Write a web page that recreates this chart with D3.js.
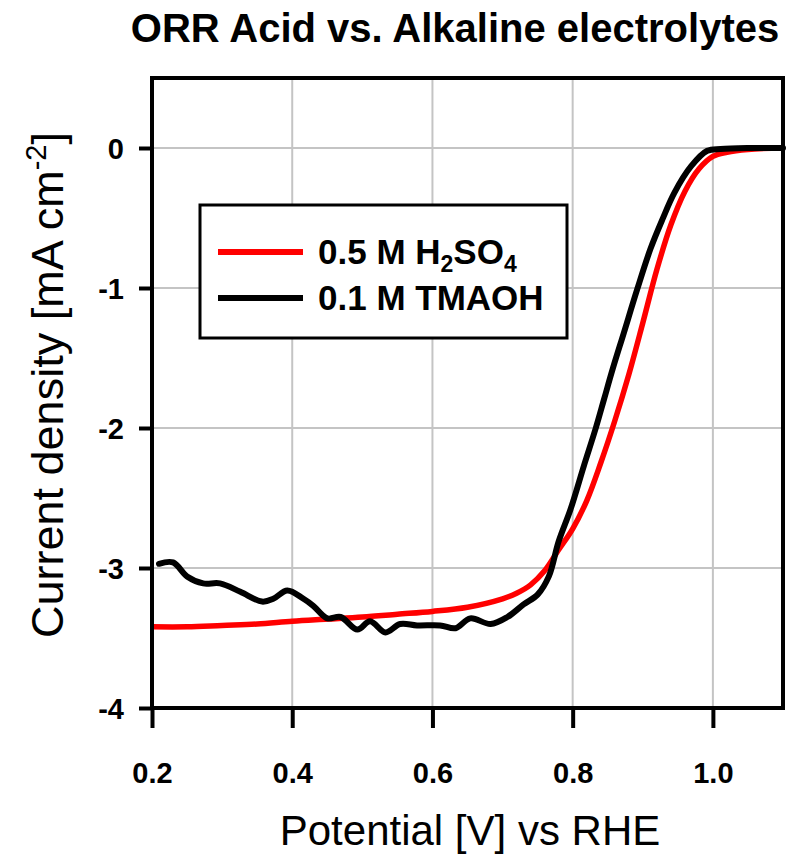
<!DOCTYPE html>
<html>
<head>
<meta charset="utf-8">
<script src="https://cdn.jsdelivr.net/npm/d3@7"></script>
<style>
  body { margin: 0; background: #fff; }
  text { font-family: "Liberation Sans", Arial, sans-serif; }
</style>
</head>
<body>
<div id="vis"></div>
<script>
// potential [V] vs RHE and current density [mA cm-2]
var acidV = [0.20, 0.25, 0.30, 0.35, 0.40, 0.45, 0.50, 0.55, 0.60, 0.65, 0.70, 0.72, 0.74, 0.76, 0.78, 0.80,
             0.82, 0.84, 0.86, 0.88, 0.90, 0.92, 0.94, 0.96, 0.98, 1.00, 1.02, 1.05, 1.10];
var acidJ = [-3.42, -3.42, -3.41, -3.40, -3.38, -3.365, -3.35, -3.33, -3.31, -3.28, -3.22, -3.18, -3.12, -3.02, -2.87, -2.72,
             -2.52, -2.25, -1.95, -1.62, -1.25, -0.87, -0.55, -0.31, -0.15, -0.06, -0.03, -0.01, 0];

var alkV = [0.21, 0.23, 0.25, 0.273, 0.297, 0.326, 0.357, 0.373, 0.393, 0.416, 0.43, 0.45, 0.469, 0.493, 0.511,
            0.533, 0.554, 0.578, 0.611, 0.633, 0.654, 0.683, 0.707, 0.73, 0.75, 0.766, 0.78, 0.797, 0.816, 0.833,
            0.845, 0.857, 0.873, 0.892, 0.911, 0.928, 0.945, 0.969, 0.992, 1.011, 1.05, 1.10];
var alkJ = [-2.97, -2.96, -3.06, -3.11, -3.11, -3.17, -3.24, -3.22, -3.16, -3.22, -3.27, -3.36, -3.35, -3.44, -3.38,
            -3.46, -3.40, -3.41, -3.41, -3.43, -3.36, -3.40, -3.35, -3.26, -3.19, -3.06, -2.81, -2.58, -2.27, -2.00,
            -1.79, -1.58, -1.32, -1.01, -0.72, -0.51, -0.32, -0.13, -0.02, -0.007, 0, 0];

var xTicks = [0.2, 0.4, 0.6, 0.8, 1.0];
var yTicks = [0, -1, -2, -3, -4];
var seriesNames = ["0.5 M H2SO4", "0.1 M TMAOH"];
var seriesColors = ["#ff0000", "#000000"];

var W = 793, H = 854;
var margin = {top: 78, right: 10, bottom: 146, left: 152};
var width = W - margin.left - margin.right;
var height = H - margin.top - margin.bottom;

var svg = d3.select("#vis").append("svg")
    .attr("width", W)
    .attr("height", H);

var g = svg.append("g")
    .attr("transform", "translate(" + margin.left + "," + margin.top + ")");

var x = d3.scaleLinear().domain([0.2, 1.1]).range([0, width]);
var y = d3.scaleLinear().domain([-4, 0.5]).range([height, 0]);

// grid
g.append("g").selectAll("line").data(xTicks.slice(1)).enter().append("line")
    .attr("x1", function(d) { return x(d); }).attr("x2", function(d) { return x(d); })
    .attr("y1", 0).attr("y2", height)
    .attr("stroke", "#c4c4c4").attr("stroke-width", 2);
g.append("g").selectAll("line").data(yTicks.slice(0, 4)).enter().append("line")
    .attr("x1", 0).attr("x2", width)
    .attr("y1", function(d) { return y(d); }).attr("y2", function(d) { return y(d); })
    .attr("stroke", "#c4c4c4").attr("stroke-width", 2);

// curves
var line = d3.line()
    .x(function(d) { return x(d[0]); })
    .y(function(d) { return y(d[1]); })
    .curve(d3.curveCatmullRom.alpha(0.5));

var acid = d3.zip(acidV, acidJ);
var alk = d3.zip(alkV, alkJ);

g.append("path").datum(acid)
    .attr("d", line).attr("fill", "none")
    .attr("stroke", seriesColors[0]).attr("stroke-width", 5.5)
    .attr("stroke-linejoin", "round");
g.append("path").datum(alk)
    .attr("d", line).attr("fill", "none")
    .attr("stroke", seriesColors[1]).attr("stroke-width", 6)
    .attr("stroke-linejoin", "round").attr("stroke-linecap", "round");

// frame
g.append("rect")
    .attr("width", width).attr("height", height)
    .attr("fill", "none").attr("stroke", "#000").attr("stroke-width", 4);

// axes
var xAxis = g.append("g")
    .attr("transform", "translate(0," + height + ")")
    .call(d3.axisBottom(x).tickValues(xTicks).tickFormat(d3.format(".1f")).tickSize(20).tickPadding(34));
var yAxis = g.append("g")
    .call(d3.axisLeft(y).tickValues(yTicks).tickFormat(function(d) { return String(d); })
      .tickSize(13).tickPadding(15));

[xAxis, yAxis].forEach(function(a) {
  a.select(".domain").remove();
  a.selectAll(".tick line").attr("stroke", "#000").attr("stroke-width", 4);
  a.selectAll(".tick text")
      .attr("font-size", 29).attr("font-weight", "bold")
      .attr("font-family", "'Liberation Sans', Arial, sans-serif")
      .attr("fill", "#000");
});
yAxis.selectAll(".tick text").attr("dy", "0.36em");

// title
svg.append("text")
    .attr("x", 455).attr("y", 42)
    .attr("text-anchor", "middle")
    .attr("font-size", 40).attr("font-weight", "bold")
    .text("ORR Acid vs. Alkaline electrolytes");

// axis titles
svg.append("text")
    .attr("x", 470).attr("y", 845)
    .attr("text-anchor", "middle")
    .attr("font-size", 42)
    .text("Potential [V] vs RHE");

var yt = svg.append("text")
    .attr("transform", "translate(63,385) rotate(-90)")
    .attr("text-anchor", "middle")
    .attr("font-size", 45);
yt.append("tspan").text("Current density [mA cm");
yt.append("tspan").attr("font-size", 29).attr("dy", -17).text("-2");
yt.append("tspan").attr("dy", 17).text("]");

// legend
var lg = svg.append("g");
lg.append("rect")
    .attr("x", 200).attr("y", 205).attr("width", 367).attr("height", 133)
    .attr("fill", "#fff").attr("stroke", "#000").attr("stroke-width", 3);

var rows = [252, 298];
rows.forEach(function(ry, i) {
  lg.append("line")
      .attr("x1", 218).attr("x2", 303).attr("y1", ry).attr("y2", ry)
      .attr("stroke", seriesColors[i]).attr("stroke-width", 6);
});

var t1 = lg.append("text").attr("x", 318).attr("y", rows[0] + 12)
    .attr("font-size", 35).attr("font-weight", "bold");
t1.append("tspan").text("0.5 M H");
t1.append("tspan").attr("font-size", 23).attr("dy", 8).text("2");
t1.append("tspan").attr("dy", -8).text("SO");
t1.append("tspan").attr("font-size", 23).attr("dy", 8).text("4");

lg.append("text").attr("x", 318).attr("y", rows[1] + 12)
    .attr("font-size", 35).attr("font-weight", "bold")
    .text(seriesNames[1]);
</script>
</body>
</html>
